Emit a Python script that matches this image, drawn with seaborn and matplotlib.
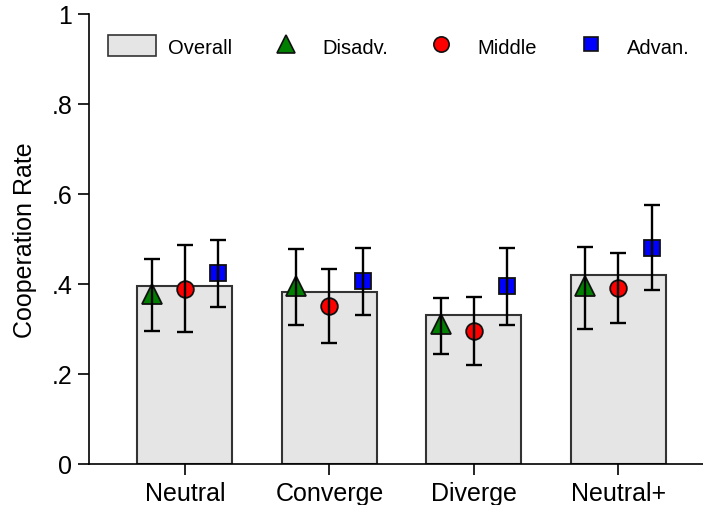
import numpy as np
import pandas as pd
import matplotlib
matplotlib.use("Agg")
import matplotlib.pyplot as plt
import seaborn as sns
from matplotlib.patches import Patch
from matplotlib.lines import Line2D

conditions = ["Neutral", "Converge", "Diverge", "Neutral+"]
overall = [0.396, 0.383, 0.331, 0.420]

disadv = [0.378, 0.396, 0.311, 0.396]
disadv_lo = [0.296, 0.310, 0.244, 0.300]
disadv_hi = [0.456, 0.478, 0.370, 0.482]

middle = [0.390, 0.352, 0.296, 0.391]
middle_lo = [0.294, 0.270, 0.220, 0.314]
middle_hi = [0.487, 0.433, 0.371, 0.468]

advan = [0.424, 0.406, 0.396, 0.481]
advan_lo = [0.350, 0.332, 0.310, 0.387]
advan_hi = [0.498, 0.479, 0.481, 0.576]

yticks = [0, 0.2, 0.4, 0.6, 0.8, 1.0]
yticklabels = ["0", ".2", ".4", ".6", ".8", "1"]

sns.set_style("white")
plt.rcParams["font.family"] = ["Liberation Sans", "DejaVu Sans"]
plt.rcParams["text.color"] = "black"
plt.rcParams["axes.labelcolor"] = "black"
plt.rcParams["xtick.color"] = "black"
plt.rcParams["ytick.color"] = "black"

fig = plt.figure(figsize=(7.03, 5.06), dpi=100)
ax = fig.add_axes([88.8 / 703, 41 / 506, 625.7 / 703, 450 / 506])

df = pd.DataFrame({"condition": conditions, "overall": overall})
sns.barplot(data=df, x="condition", y="overall", ax=ax, color="#e5e5e5",
            saturation=1, width=0.657, edgecolor="#333333", linewidth=1.5,
            errorbar=None, zorder=2)

pos = np.arange(len(conditions))
off = 0.23
groups = [
    (disadv, disadv_lo, disadv_hi, -off, "^", "#007f00", 14),
    (middle, middle_lo, middle_hi, 0.0, "o", "#ff0000", 12),
    (advan, advan_lo, advan_hi, off, "s", "#0000ff", 11),
]
for vals, lo, hi, dx, mk, col, ms in groups:
    vals = np.array(vals); lo = np.array(lo); hi = np.array(hi)
    ax.plot(pos + dx, vals, linestyle="none", marker=mk, markersize=ms,
            markerfacecolor=col, markeredgecolor="#111111",
            markeredgewidth=1.3, zorder=3)
    ax.errorbar(pos + dx, vals, yerr=[vals - lo, hi - vals], fmt="none",
                ecolor="black", elinewidth=1.7, capsize=6, capthick=1.7,
                zorder=4)

ax.set_xlim(-0.665, 3.665)
ax.set_ylim(0, 1)
ax.set_yticks(yticks)
ax.set_yticklabels(yticklabels)
ax.set_xlabel("")
ax.set_ylabel("Cooperation Rate", fontsize=18, labelpad=10)
ax.tick_params(axis="both", labelsize=18, direction="out", length=8,
               width=1.2, color="black", labelcolor="black", left=True, bottom=True)
ax.tick_params(axis="y", pad=4)
ax.tick_params(axis="x", pad=4)
for s in ["top", "right"]:
    ax.spines[s].set_visible(False)
for s in ["left", "bottom"]:
    ax.spines[s].set_color("black")
    ax.spines[s].set_linewidth(1.2)

handles = [
    Patch(facecolor="#e5e5e5", edgecolor="#333333", linewidth=1.2),
    Line2D([], [], linestyle="none", marker="^", markersize=13,
           markerfacecolor="#007f00", markeredgecolor="#111111", markeredgewidth=1.2),
    Line2D([], [], linestyle="none", marker="o", markersize=11,
           markerfacecolor="#ff0000", markeredgecolor="#111111", markeredgewidth=1.2),
    Line2D([], [], linestyle="none", marker="s", markersize=10,
           markerfacecolor="#0000ff", markeredgecolor="#111111", markeredgewidth=1.2),
]
labels = ["Overall", "Disadv.", "Middle", "Advan."]
fig.legend(handles, labels, loc="center left",
           bbox_to_anchor=(108 / 703, (506 - 47) / 506), ncol=4, frameon=False,
           fontsize=14.5, handlelength=2.4, handleheight=1.2,
           handletextpad=0.6, columnspacing=1.45, borderpad=0,
           borderaxespad=0)

fig.savefig("out.png", dpi=100)
